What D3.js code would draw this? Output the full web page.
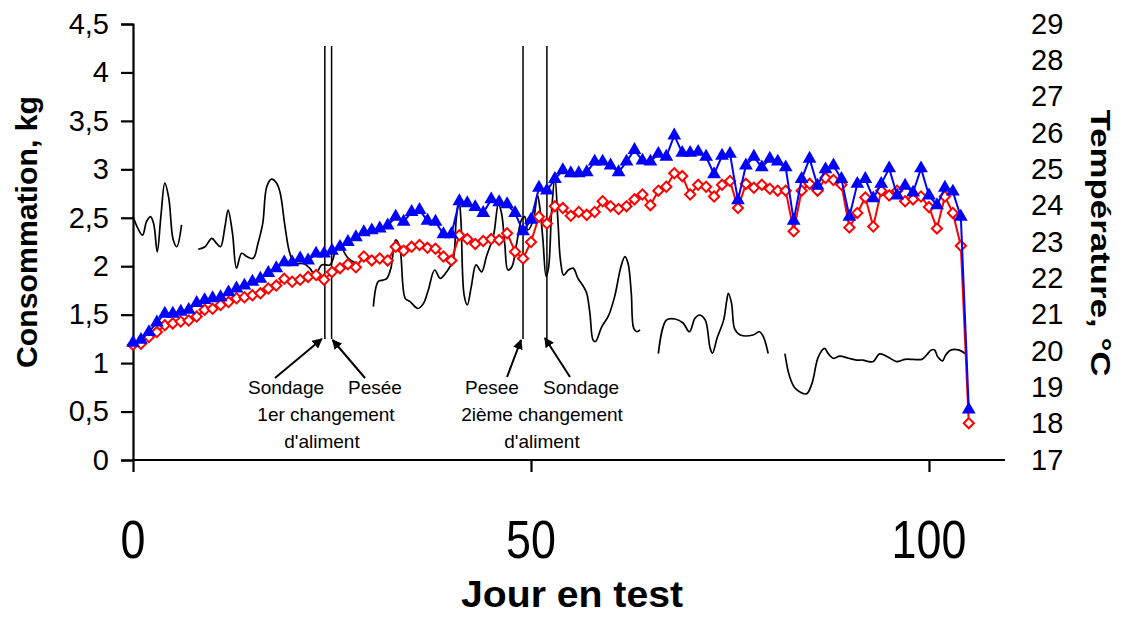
<!DOCTYPE html>
<html>
<head>
<meta charset="utf-8">
<script src="https://cdn.jsdelivr.net/npm/d3@7"></script>
<style>
body { margin: 0; background: #fff; }
svg { font-family: "Liberation Sans", Arial, sans-serif; }
.axis path, .axis line { stroke: #000; stroke-width: 2.2; }
</style>
</head>
<body>
<script>
// Consommation (kg) par jour, serie 1 (triangles bleus) et serie 2 (losanges rouges)
var jours = d3.range(0, 106);
var consoBleu = [1.21,1.24,1.32,1.42,1.51,1.51,1.53,1.55,1.62,1.65,
    1.67,1.68,1.73,1.77,1.80,1.84,1.87,1.93,1.98,2.04,
    2.04,2.08,2.06,2.13,2.13,2.16,2.20,2.25,2.30,2.35,
    2.37,2.39,2.42,2.51,2.46,2.56,2.58,2.47,2.46,2.33,
    2.33,2.67,2.65,2.61,2.55,2.69,2.66,2.64,2.55,2.36,
    2.48,2.81,2.78,2.90,2.99,2.96,2.96,2.97,3.08,3.08,
    3.04,2.97,3.08,3.20,3.09,3.08,3.16,3.13,3.35,3.17,
    3.17,3.18,3.13,2.95,3.14,3.16,2.68,3.04,3.13,3.02,
    3.11,3.08,3.02,2.47,2.90,3.11,2.83,3.00,3.04,2.90,
    2.51,2.85,2.90,2.70,2.85,3.01,2.73,2.83,2.76,3.01,
    2.73,2.63,2.81,2.77,2.51,0.52];
var consoRouge = [1.19,1.20,1.27,1.32,1.39,1.41,1.43,1.44,1.48,1.55,
    1.56,1.60,1.63,1.67,1.68,1.70,1.72,1.77,1.80,1.87,
    1.84,1.86,1.89,1.91,1.86,1.94,1.98,2.02,1.99,2.10,
    2.06,2.08,2.06,2.20,2.16,2.20,2.22,2.19,2.18,2.10,
    2.06,2.32,2.28,2.23,2.26,2.28,2.27,2.34,2.15,2.08,
    2.25,2.51,2.44,2.62,2.60,2.52,2.56,2.53,2.56,2.67,
    2.62,2.59,2.62,2.69,2.74,2.63,2.78,2.82,2.96,2.93,
    2.74,2.84,2.82,2.72,2.84,2.88,2.60,2.85,2.81,2.84,
    2.80,2.78,2.78,2.36,2.78,2.85,2.78,2.91,2.89,2.84,
    2.40,2.55,2.71,2.41,2.78,2.73,2.78,2.67,2.69,2.72,
    2.61,2.39,2.72,2.55,2.21,0.38];

// Temperature (axe de droite), null = trou dans la courbe
var tempJour = [0.0,0.6,1.2,1.7,2.2,2.6,3.05,3.5,4.0,4.5,5.05,5.5,6.1, null,
    8.2,9.05,9.9,10.5,11.0,11.55,11.95,12.5,13.0,13.65,14.3,15.1,15.7,16.3,16.8,17.4,18.05,18.5,19.1,19.7,20.35,21.4,22.2,22.9,23.7,24.75,25.4,26.0,26.5,27.05,28.1, null,
    30.2,30.8,31.4,31.9,32.4,33.0,33.5,34.2,34.8,35.8,36.5,37.1,37.9,38.6,39.4,40.2,40.6,40.95,41.2,41.6,42.0,42.5,43.1,43.8,44.4,45.3,45.9,46.3,46.7,47.1,47.6,48.2,48.8,49.2,49.6,50.3,50.8,51.1,51.5,51.9,52.2,52.6,53.0,53.4,53.7,54.1,54.7,55.3,55.9,56.6,57.0,57.4,57.8,58.1,58.9,59.7,60.5,61.3,61.8,62.2,62.6,62.9,63.3,63.7, null,
    66.0,67.0,68.1,69.1,69.9,70.6,71.2,71.9,72.5,72.8,73.4,74.2,74.6,74.8,75.2,75.6,76.3,77.9,78.7,79.2,79.8, null,
    81.9,82.5,83.2,84.6,85.3,86.1,86.9,87.3,88.0,88.8,89.9,90.9,91.7,92.4,93.0,93.8,94.9,95.9,97.0,98.0,99.1,99.7,100.3,100.7,101.1,101.7,102.1,102.8,103.7,104.6];
var tempVal = [23.70,23.38,23.19,23.56,23.70,23.50,22.73,23.70,24.62,24.20,23.06,22.87,23.47, null,
    22.80,22.87,23.10,22.96,22.87,23.42,23.88,23.24,22.28,22.69,22.60,22.55,22.96,23.51,24.52,24.73,24.62,24.34,23.42,22.69,22.41,22.41,22.28,22.09,22.37,22.37,22.73,23.00,22.73,22.55,22.41, null,
    21.22,21.91,21.95,22.00,22.28,23.06,22.87,21.45,21.36,21.17,21.31,21.68,22.23,22.00,22.18,22.50,23.60,24.20,23.60,21.54,21.27,21.77,22.37,22.18,22.60,23.19,24.05,23.79,22.96,22.23,22.32,22.96,23.61,23.70,23.33,23.61,24.30,23.97,23.06,22.05,22.28,23.88,24.78,23.52,22.50,22.09,22.23,22.28,22.00,21.77,21.59,21.04,20.30,20.26,20.67,20.95,21.49,22.32,22.60,22.41,21.59,20.63,20.53,20.58, null,
    19.93,20.85,20.88,20.77,20.53,20.90,20.99,20.85,20.08,19.94,20.37,20.85,21.40,21.59,21.31,20.60,20.44,20.44,20.53,20.39,19.93, null,
    19.93,19.29,18.97,18.82,19.11,19.84,20.07,19.94,19.80,19.86,19.80,19.75,19.75,19.71,19.71,19.92,19.83,19.71,19.77,19.77,19.77,19.89,20.03,20.03,19.84,19.73,19.89,20.03,20.03,19.92];

var yTicksGauche = [0, 0.5, 1, 1.5, 2, 2.5, 3, 3.5, 4, 4.5];
var yTicksDroite = d3.range(17, 30);
var xTicks = [0, 50, 100];

// evenements : sondage / pesee
var evenJour = [24.1, 24.95, 49.0, 52.0];

var W = 1127, H = 618;

var svg = d3.select("body").append("svg")
    .attr("width", W)
    .attr("height", H);

var x = d3.scaleLinear().domain([0, 109.5]).range([133, 1004.6]);
var y = d3.scaleLinear().domain([0, 4.5]).range([460, 24]);
var y2 = d3.scaleLinear().domain([17, 29]).range([460, 24]);

function virgule(v) { return String(v).replace(".", ","); }

// axe gauche
var gY = svg.append("g")
    .attr("class", "axis")
    .attr("transform", "translate(133,0)")
    .call(d3.axisLeft(y).tickValues(yTicksGauche).tickSize(12).tickPadding(12).tickFormat(virgule));
gY.selectAll("text")
    .attr("font-size", 29)
    .attr("font-family", "Liberation Sans, Arial, sans-serif")
    .attr("fill", "#000");

// axe droit (sans ligne)
var gY2 = svg.append("g")
    .attr("class", "axis")
    .attr("transform", "translate(1005,0)")
    .call(d3.axisRight(y2).tickValues(yTicksDroite).tickSize(0).tickPadding(26));
gY2.select(".domain").remove();
gY2.selectAll("text")
    .attr("font-size", 29)
    .attr("font-family", "Liberation Sans, Arial, sans-serif")
    .attr("fill", "#000");

// axe du bas
var gX = svg.append("g")
    .attr("class", "axis")
    .attr("transform", "translate(0,460)")
    .call(d3.axisBottom(x).tickValues(xTicks).tickSize(12).tickFormat(""));
gX.select(".domain").attr("d", "M133,0H1005");

svg.selectAll("text.xlab")
    .data(xTicks)
    .enter().append("text")
    .attr("class", "xlab")
    .attr("transform", function (d) { return "translate(" + x(d) + ",558) scale(0.83,1)"; })
    .attr("text-anchor", "middle")
    .attr("font-size", 54)
    .text(function (d) { return d; });

// titres
svg.append("text")
    .attr("transform", "translate(572,607)")
    .attr("text-anchor", "middle")
    .attr("font-size", 37)
    .attr("font-weight", "bold")
    .attr("textLength", 222)
    .attr("lengthAdjust", "spacingAndGlyphs")
    .text("Jour en test");

svg.append("text")
    .attr("transform", "translate(37,232) rotate(-90)")
    .attr("text-anchor", "middle")
    .attr("font-size", 29)
    .attr("font-weight", "bold")
    .attr("textLength", 272)
    .attr("lengthAdjust", "spacingAndGlyphs")
    .text("Consommation, kg");

svg.append("text")
    .attr("transform", "translate(1091,243) rotate(90)")
    .attr("text-anchor", "middle")
    .attr("font-size", 28)
    .attr("font-weight", "bold")
    .attr("textLength", 267)
    .attr("lengthAdjust", "spacingAndGlyphs")
    .text("Température, °C");

// courbe de temperature
var tempPts = tempJour.map(function (d, i) { return [d, tempVal[i]]; });
var lineT = d3.line()
    .defined(function (d) { return d[0] != null && d[1] != null; })
    .x(function (d) { return x(d[0]); })
    .y(function (d) { return y2(d[1]); })
    .curve(d3.curveCatmullRom);
svg.append("path")
    .datum(tempPts)
    .attr("d", lineT)
    .attr("fill", "none")
    .attr("stroke", "#000")
    .attr("stroke-width", 1.7);

// lignes verticales des evenements
svg.selectAll("line.even")
    .data(evenJour)
    .enter().append("line")
    .attr("class", "even")
    .attr("x1", function (d) { return x(d); })
    .attr("x2", function (d) { return x(d); })
    .attr("y1", 46)
    .attr("y2", 339)
    .attr("stroke", "#000")
    .attr("stroke-width", 1.5);

// series de consommation
function drawSerie(vals, color, symbol, size, rot, filled) {
    var line = d3.line()
        .x(function (d, i) { return x(jours[i]); })
        .y(function (d) { return y(d); });
    svg.append("path")
        .datum(vals)
        .attr("d", line)
        .attr("fill", "none")
        .attr("stroke", color)
        .attr("stroke-width", 2);
    svg.selectAll(null)
        .data(vals)
        .enter().append("path")
        .attr("d", d3.symbol().type(symbol).size(size))
        .attr("transform", function (d, i) {
            return "translate(" + x(jours[i]) + "," + y(d) + ") rotate(" + rot + ")";
        })
        .attr("fill", filled ? color : "#fff")
        .attr("stroke", filled ? "none" : color)
        .attr("stroke-width", 2);
}
drawSerie(consoRouge, "#FF0000", d3.symbolSquare, 52, 45, false);
drawSerie(consoBleu, "#0000FF", d3.symbolTriangle, 82, 0, true);

// fleches et annotations
svg.append("defs").append("marker")
    .attr("id", "fleche")
    .attr("viewBox", "0 0 10 10")
    .attr("refX", 9).attr("refY", 5)
    .attr("markerWidth", 5).attr("markerHeight", 5)
    .attr("orient", "auto")
    .append("path")
    .attr("d", "M0,0L10,5L0,10z")
    .attr("fill", "#000");

var fleches = [
    [275, 378, x(evenJour[0]) - 3, 339],
    [365, 378, x(evenJour[1]) + 1, 340],
    [507, 377, x(evenJour[2]) - 2, 340],
    [570, 377, x(evenJour[3]) - 2, 338]
];
svg.selectAll("line.fleche")
    .data(fleches)
    .enter().append("line")
    .attr("x1", function (d) { return d[0]; })
    .attr("y1", function (d) { return d[1]; })
    .attr("x2", function (d) { return d[2]; })
    .attr("y2", function (d) { return d[3]; })
    .attr("stroke", "#000")
    .attr("stroke-width", 2)
    .attr("marker-end", "url(#fleche)");

var notes = [
    ["Sondage", 286, 394], ["Pesée", 375, 394], ["1er changement", 326, 421], ["d'aliment", 322, 448],
    ["Pesee", 492, 394], ["Sondage", 581, 394], ["2ième changement", 542, 421], ["d'aliment", 542, 448]
];
svg.selectAll("text.note")
    .data(notes)
    .enter().append("text")
    .attr("class", "note")
    .attr("x", function (d) { return d[1]; })
    .attr("y", function (d) { return d[2]; })
    .attr("text-anchor", "middle")
    .attr("font-size", 19)
    .text(function (d) { return d[0]; });
</script>
</body>
</html>
